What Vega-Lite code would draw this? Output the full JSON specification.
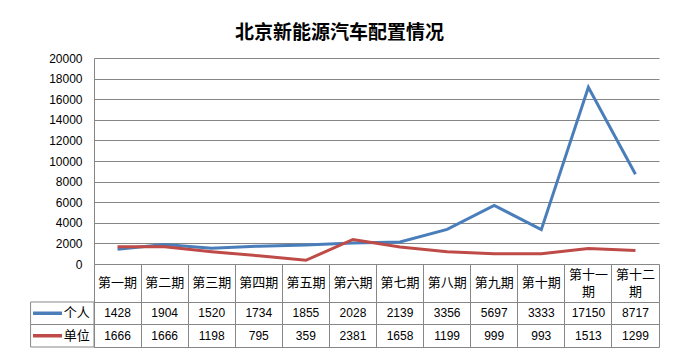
{
  "$schema": "https://vega.github.io/schema/vega-lite/v6.json",
  "background": "white",
  "padding": {"left": 29, "top": 24, "right": 10, "bottom": 10},
  "title": {"text": "北京新能源汽车配置情况", "font": "Noto Sans CJK SC", "fontSize": 19, "fontWeight": "bold", "color": "black", "anchor": "middle", "dx": -5, "offset": 9},
  "datasets": {
    "values": [
      {"period": "第一期", "series": "个人", "value": 1428},
      {"period": "第二期", "series": "个人", "value": 1904},
      {"period": "第三期", "series": "个人", "value": 1520},
      {"period": "第四期", "series": "个人", "value": 1734},
      {"period": "第五期", "series": "个人", "value": 1855},
      {"period": "第六期", "series": "个人", "value": 2028},
      {"period": "第七期", "series": "个人", "value": 2139},
      {"period": "第八期", "series": "个人", "value": 3356},
      {"period": "第九期", "series": "个人", "value": 5697},
      {"period": "第十期", "series": "个人", "value": 3333},
      {"period": "第十一期", "series": "个人", "value": 17150},
      {"period": "第十二期", "series": "个人", "value": 8717},
      {"period": "第一期", "series": "单位", "value": 1666},
      {"period": "第二期", "series": "单位", "value": 1666},
      {"period": "第三期", "series": "单位", "value": 1198},
      {"period": "第四期", "series": "单位", "value": 795},
      {"period": "第五期", "series": "单位", "value": 359},
      {"period": "第六期", "series": "单位", "value": 2381},
      {"period": "第七期", "series": "单位", "value": 1658},
      {"period": "第八期", "series": "单位", "value": 1199},
      {"period": "第九期", "series": "单位", "value": 999},
      {"period": "第十期", "series": "单位", "value": 993},
      {"period": "第十一期", "series": "单位", "value": 1513},
      {"period": "第十二期", "series": "单位", "value": 1299}
    ],
    "periods": [
      {"period": "第一期", "label": "第一期"},
      {"period": "第二期", "label": "第二期"},
      {"period": "第三期", "label": "第三期"},
      {"period": "第四期", "label": "第四期"},
      {"period": "第五期", "label": "第五期"},
      {"period": "第六期", "label": "第六期"},
      {"period": "第七期", "label": "第七期"},
      {"period": "第八期", "label": "第八期"},
      {"period": "第九期", "label": "第九期"},
      {"period": "第十期", "label": "第十期"},
      {"period": "第十一期", "label": "第十一\n期"},
      {"period": "第十二期", "label": "第十二\n期"}
    ],
    "series": [{"series": "个人"}, {"series": "单位"}]
  },
  "spacing": 0,
  "bounds": "flush",
  "vconcat": [
    {
      "width": 565,
      "height": 206,
      "view": {"stroke": null},
      "data": {"name": "values"},
      "mark": {"type": "line", "strokeWidth": 3},
      "encoding": {
        "x": {"field": "period", "type": "nominal", "sort": null, "bandPosition": 0.5,
          "scale": {"type": "band", "domain": ["第一期","第二期","第三期","第四期","第五期","第六期","第七期","第八期","第九期","第十期","第十一期","第十二期"], "paddingInner": 0, "paddingOuter": 0},
          "axis": null},
        "y": {"field": "value", "type": "quantitative", "scale": {"domain": [0, 20000], "nice": false},
          "axis": {"values": [0,2000,4000,6000,8000,10000,12000,14000,16000,18000,20000], "title": null, "ticks": false, "labelPadding": 12, "labelFontSize": 12, "labelColor": "black", "labelFont": "Liberation Sans", "domainColor": "#868686", "gridColor": "#868686", "gridOpacity": 1, "grid": true, "format": "d"}},
        "color": {"field": "series", "type": "nominal", "scale": {"domain": ["个人", "单位"], "range": ["#4A7EBB", "#BE4B48"]}, "legend": null}
      }
    },
    {
      "width": 565,
      "height": 38,
      "data": {"name": "periods"},
      "encoding": {
        "x": {"field": "period", "type": "nominal", "sort": null,
          "scale": {"type": "band", "domain": ["第一期","第二期","第三期","第四期","第五期","第六期","第七期","第八期","第九期","第十期","第十一期","第十二期"], "paddingInner": 0, "paddingOuter": 0},
          "axis": {"grid": true, "bandPosition": 0, "labels": false, "ticks": false, "domain": false, "title": null, "gridColor": "#878787", "gridOpacity": 1}},
        "text": {"field": "label"}
      },
      "layer": [
        {
          "transform": [{"filter": "indexof(datum.label, '\\n') < 0"}],
          "mark": {"type": "text", "font": "Noto Sans CJK SC", "fontSize": 13, "color": "black"}
        },
        {
          "transform": [{"filter": "indexof(datum.label, '\\n') >= 0"}],
          "mark": {"type": "text", "font": "Noto Sans CJK SC", "fontSize": 13, "lineBreak": "\n", "lineHeight": 17, "color": "black", "dy": -8}
        }
      ]
    },
    {
      "width": 565,
      "height": 45,
      "layer": [
        {
          "data": {"name": "values"},
          "mark": {"type": "text", "fontSize": 12, "font": "Liberation Sans", "color": "black"},
          "encoding": {
            "x": {"field": "period", "type": "nominal", "sort": null,
              "scale": {"type": "band", "domain": ["第一期","第二期","第三期","第四期","第五期","第六期","第七期","第八期","第九期","第十期","第十一期","第十二期"], "paddingInner": 0, "paddingOuter": 0},
              "axis": {"grid": true, "bandPosition": 0, "labels": false, "ticks": false, "domain": false, "title": null, "gridColor": "#878787", "gridOpacity": 1}},
            "y": {"field": "series", "type": "nominal",
              "scale": {"type": "band", "domain": ["个人", "单位"], "paddingInner": 0, "paddingOuter": 0},
              "axis": {"grid": true, "bandPosition": 0, "labels": false, "ticks": false, "domain": false, "title": null, "gridColor": "#878787", "gridOpacity": 1}},
            "text": {"field": "value", "type": "quantitative", "format": "d"}
          }
        },
        {
          "data": {"name": "series"},
          "layer": [
            {
              "mark": {"type": "rect", "fill": "white", "stroke": "#878787", "strokeWidth": 1},
              "encoding": {
                "x": {"datum": -1.347, "type": "quantitative", "scale": {"domain": [0, 12]}, "axis": null},
                "x2": {"datum": 0},
                "y": {"field": "series", "type": "nominal"}
              }
            },
            {
              "mark": {"type": "rule", "strokeWidth": 3.5},
              "encoding": {
                "x": {"datum": -1.296, "type": "quantitative"},
                "x2": {"datum": -0.68},
                "y": {"field": "series", "type": "nominal", "bandPosition": 0.5},
                "color": {"field": "series", "type": "nominal", "legend": null}
              }
            },
            {
              "mark": {"type": "text", "font": "Noto Sans CJK SC", "fontSize": 13, "color": "black"},
              "encoding": {
                "x": {"datum": -0.365, "type": "quantitative"},
                "y": {"field": "series", "type": "nominal", "bandPosition": 0.5},
                "text": {"field": "series"}
              }
            }
          ]
        }
      ],
      "resolve": {"scale": {"x": "independent"}, "axis": {"x": "independent"}}
    }
  ],
  "config": {
    "view": {"stroke": "#878787"},
    "font": "Liberation Sans"
  }
}
